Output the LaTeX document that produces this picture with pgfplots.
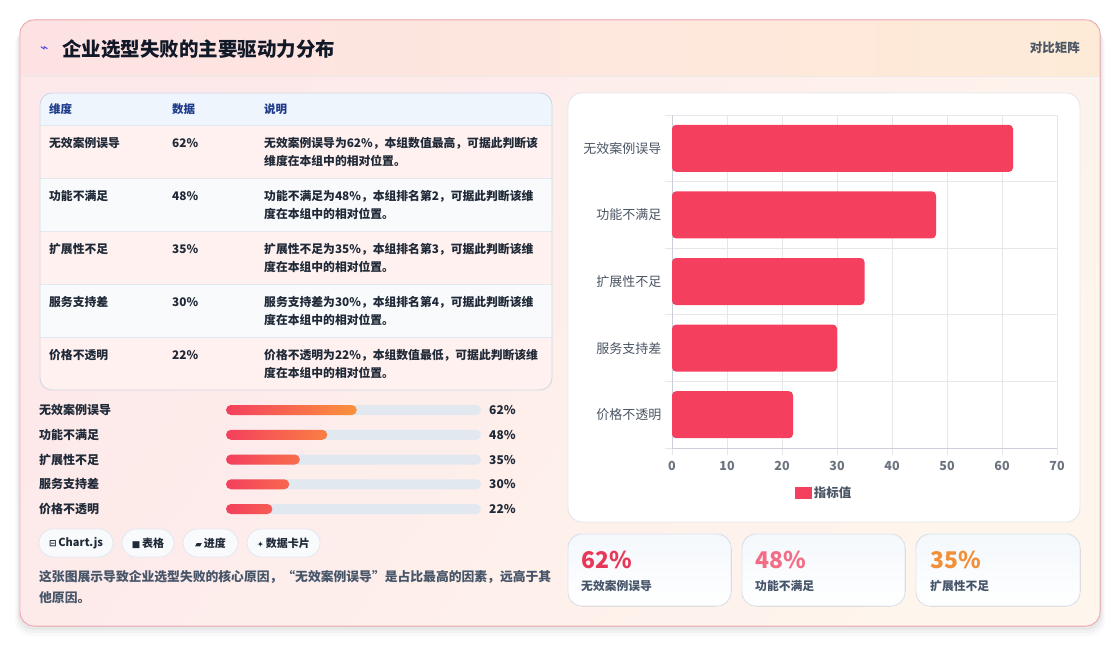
\documentclass[border=0pt]{standalone}
\usepackage{pgfplots}
\pgfplotsset{compat=1.18}
\usepackage{fontspec}
\setmainfont{Noto Sans CJK SC}
\newfontfamily\dejavu{DejaVu Sans}

\definecolor{barc}{HTML}{F43F5E}
\definecolor{gridc}{HTML}{E5E7EB}
\definecolor{axisc}{HTML}{CBD0D8}
\definecolor{tickc}{HTML}{6B7280}
\definecolor{labc}{HTML}{4B5563}
\definecolor{ink}{HTML}{1F2937}
\definecolor{titlec}{HTML}{111827}
\definecolor{navy}{HTML}{1E3A8A}
\definecolor{slate}{HTML}{475569}
\definecolor{track}{HTML}{E2E8F0}
\definecolor{gradA}{HTML}{F43F5E}
\definecolor{gradB}{HTML}{FB923C}
\definecolor{kpiA}{HTML}{E8385A}
\definecolor{kpiB}{HTML}{F26D85}
\definecolor{kpiC}{HTML}{F2903A}
\definecolor{cardpink}{HTML}{FDE8EA}
\definecolor{cardcream}{HTML}{FEF5EC}
\definecolor{headpink}{HTML}{FDE2E3}
\definecolor{headpeach}{HTML}{FEEBD7}
\definecolor{cardborder}{HTML}{F2AEB8}
\definecolor{tblborder}{HTML}{CFD8E3}
\definecolor{tblhead}{HTML}{EEF5FD}
\definecolor{rowpink}{HTML}{FFF1EF}
\definecolor{rowgray}{HTML}{F8FAFC}
\definecolor{sepc}{HTML}{E2E8F0}
\definecolor{iconc}{HTML}{4F46E5}
\definecolor{kpiborder}{HTML}{DCE5F1}
\definecolor{kpitop}{HTML}{F4F8FC}

\newcommand\fs[1]{\fontsize{#1bp}{#1bp}\selectfont}
\newcommand\tx[4][]{\node[anchor=west,inner sep=0pt,#1] at (#2,#3) {#4};}

\begin{document}
\begin{tikzpicture}
\begin{scope}[x=1bp,y=-1bp]
  \useasboundingbox (0,0) rectangle (1120,646);
  \fill[white] (0,0) rectangle (1120,646);
  % shadow
  \foreach \d/\o in {10/0.02,7/0.03,4/0.04}{
    \fill[black,opacity=\o,rounded corners=16] (20-\d/2,20+\d) rectangle (1100+\d/2,626+\d);
  }
  % outer card
  \fill[rounded corners=14,left color=cardpink,right color=cardcream,shading angle=55]
    (20,20) rectangle (1100,626);
  \begin{scope}
    \clip[rounded corners=14] (20,20) rectangle (1100,626);
    \fill[left color=headpink,right color=headpeach] (20,20) rectangle (1100,76);
    \draw[color=headpink!70!gray!40,line width=0.8] (20,76) -- (1100,76);
  \end{scope}
  \draw[cardborder,line width=1,rounded corners=14] (20,20) rectangle (1100,626);

  % header
  \tx{40}{49}{\dejavu\fs{14}\color{iconc}⌁}
  \tx{62}{49}{\fs{19.5}\bfseries\color{titlec}企业选型失败的主要驱动力分布}
  \node[anchor=east,inner sep=0pt] at (1080,48) {\fs{12.5}\bfseries\color{labc}对比矩阵};

  % table card
  \begin{scope}
    \clip[rounded corners=12] (40,93) rectangle (552,390);
    \fill[tblhead] (40,93) rectangle (552,125);
    \fill[rowpink] (40,125) rectangle (552,178);
    \fill[rowgray] (40,178) rectangle (552,231);
    \fill[rowpink] (40,231) rectangle (552,284);
    \fill[rowgray] (40,284) rectangle (552,337);
    \fill[rowpink] (40,337) rectangle (552,390);
    \foreach \yy in {125,178,231,284,337}{\draw[sepc,line width=0.8] (40,\yy) -- (552,\yy);}
  \end{scope}
  \draw[tblborder,line width=0.9,rounded corners=12] (40,93) rectangle (552,390);
  \tx{49}{109}{\fs{11.5}\bfseries\color{navy}维度}
  \tx{172}{109}{\fs{11.5}\bfseries\color{navy}数据}
  \tx{264}{109}{\fs{11.5}\bfseries\color{navy}说明}
  \begin{scope}[every node/.append style={font=\fs{11.8}\bfseries,text=ink}]
    \tx{49}{143}{无效案例误导}\tx{172}{143}{62\%}
    \tx{264}{143}{无效案例误导为62\%，本组数值最高，可据此判断该}
    \tx{264}{161}{维度在本组中的相对位置。}
    \tx{49}{196}{功能不满足}\tx{172}{196}{48\%}
    \tx{264}{196}{功能不满足为48\%，本组排名第2，可据此判断该维}
    \tx{264}{214}{度在本组中的相对位置。}
    \tx{49}{249}{扩展性不足}\tx{172}{249}{35\%}
    \tx{264}{249}{扩展性不足为35\%，本组排名第3，可据此判断该维}
    \tx{264}{267}{度在本组中的相对位置。}
    \tx{49}{302}{服务支持差}\tx{172}{302}{30\%}
    \tx{264}{302}{服务支持差为30\%，本组排名第4，可据此判断该维}
    \tx{264}{320}{度在本组中的相对位置。}
    \tx{49}{355}{价格不透明}\tx{172}{355}{22\%}
    \tx{264}{355}{价格不透明为22\%，本组数值最低，可据此判断该维}
    \tx{264}{373}{度在本组中的相对位置。}
  \end{scope}

  % progress labels
  \begin{scope}[every node/.append style={font=\fs{12}\bfseries,text=ink}]
    \tx{39}{410}{无效案例误导}\tx{489}{410}{62\%}
    \tx{39}{435}{功能不满足}\tx{489}{435}{48\%}
    \tx{39}{460}{扩展性不足}\tx{489}{460}{35\%}
    \tx{39}{484}{服务支持差}\tx{489}{484}{30\%}
    \tx{39}{509}{价格不透明}\tx{489}{509}{22\%}
  \end{scope}

  % chips
  \foreach \a/\b in {39/113,122/174,183/238,247/320}{
    \fill[rowgray,rounded corners=14] (\a,529) rectangle (\b,557);
    \draw[sepc,line width=0.8,rounded corners=14] (\a,529) rectangle (\b,557);
  }
  \begin{scope}[every node/.append style={text=ink}]
    \node[inner sep=0pt] at (76,543) {\fs{11}\bfseries{\dejavu\fs{9}⊟}\,Chart.js};
    \node[inner sep=0pt] at (148,543) {\fs{11}\bfseries{\dejavu\fs{9}■}\,表格};
    \node[inner sep=0pt] at (210.5,543) {\fs{11}\bfseries{\dejavu\fs{9}▰}\,进度};
    \node[inner sep=0pt] at (283.5,543) {\fs{11}\bfseries{\dejavu\fs{8}✦}\,数据卡片};
  \end{scope}

  % description
  \tx{39}{577}{\fs{12.8}\bfseries\color{slate}这张图展示导致企业选型失败的核心原因，“无效案例误导”是占比最高的因素，远高于其}
  \tx{39}{598}{\fs{12.8}\bfseries\color{slate}他原因。}

  % chart card
  \fill[white,rounded corners=14] (568,93) rectangle (1080,522);
  \draw[gridc,line width=0.9,rounded corners=14] (568,93) rectangle (1080,522);

  % kpi cards
  \foreach \a/\b in {568/731,742/905,916/1080}{
    \fill[top color=kpitop,bottom color=white,rounded corners=14] (\a,534) rectangle (\b,606);
    \draw[kpiborder,line width=0.9,rounded corners=14] (\a,534) rectangle (\b,606);
  }
  \tx{581}{560}{\fs{23}\bfseries\color{kpiA}62\%}
  \tx{755}{560}{\fs{23}\bfseries\color{kpiB}48\%}
  \tx{930}{560}{\fs{23}\bfseries\color{kpiC}35\%}
  \tx{581}{586}{\fs{11.8}\bfseries\color{slate}无效案例误导}
  \tx{755}{586}{\fs{11.8}\bfseries\color{slate}功能不满足}
  \tx{930}{586}{\fs{11.8}\bfseries\color{slate}扩展性不足}
\end{scope}

% main bar chart
\begin{axis}[
  at={(672bp,-448bp)}, anchor=south west,
  width=385bp, height=333bp, scale only axis,
  xbar, bar width=47bp,
  xmin=0, xmax=70, ymin=-0.5, ymax=4.5, y dir=reverse,
  xtick={0,10,...,70},
  ytick={-0.5,0.5,...,4.5}, yticklabels={},
  extra y ticks={0,1,2,3,4},
  extra y tick labels={无效案例误导,功能不满足,扩展性不足,服务支持差,价格不透明},
  extra y tick style={grid=none, major tick length=0pt,
    yticklabel style={font=\fs{13}, text=labc, xshift=-7bp}},
  grid=major, grid style={draw=gridc, line width=0.8bp},
  axis x line*=bottom, axis y line*=left,
  axis line style={draw=axisc, line width=0.9bp, -},
  tick align=outside, major tick length=7bp,
  tick style={draw=gridc, line width=0.8bp},
  xticklabel style={font=\fs{12.5}\bfseries, text=tickc, yshift=-3bp},
  /pgf/number format/assume math mode=true,
  legend style={at={(0.395,-0.135)}, anchor=center, draw=none, fill=none,
    font=\fs{12.5}\bfseries, text=labc},
  legend image code/.code={\fill[barc,sharp corners] (0bp,-6bp) rectangle (17bp,6bp);},
]
\addplot[fill=barc, draw=none, bar shift=0pt, rounded corners=4bp]
  coordinates {(62,0) (48,1) (35,2) (30,3) (22,4)};
\addlegendentry{指标值}
\end{axis}

% progress bars
\begin{axis}[
  at={(226bp,-521.4bp)}, anchor=south west,
  width=255bp, height=123.75bp, scale only axis,
  xbar, bar width=10bp,
  xmin=0, xmax=120.85, ymin=-0.5, ymax=4.5, y dir=reverse,
  hide axis, clip=false,
]
\addplot[fill=track, draw=none, bar shift=0pt, rounded corners=5bp]
  coordinates {(120.85,0) (120.85,1) (120.85,2) (120.85,3) (120.85,4)};
\addplot[left color=gradA, right color=gradB, draw=none, bar shift=0pt, rounded corners=5bp]
  coordinates {(62,0) (48,1) (35,2) (30,3) (22,4)};
\end{axis}
\end{tikzpicture}
\end{document}
